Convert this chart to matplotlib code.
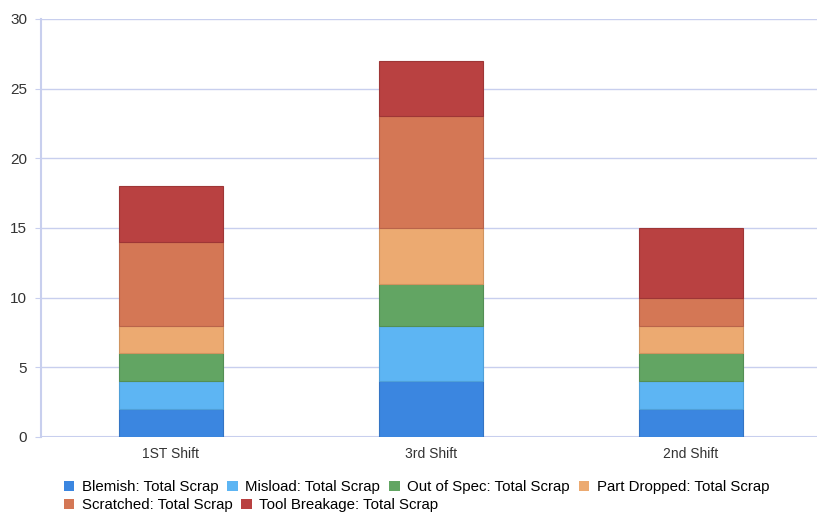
import numpy as np
import matplotlib.pyplot as plt
from matplotlib.patches import Patch

# --- DATA ---
shifts = ['1ST Shift', '3rd Shift', '2nd Shift']
series = ['Blemish: Total Scrap', 'Misload: Total Scrap', 'Out of Spec: Total Scrap',
          'Part Dropped: Total Scrap', 'Scratched: Total Scrap', 'Tool Breakage: Total Scrap']
blemish      = [2, 4, 2]
misload      = [2, 4, 2]
out_of_spec  = [2, 3, 2]
part_dropped = [2, 4, 2]
scratched    = [6, 8, 2]
tool_break   = [4, 4, 5]

colors = ['#3b86e0', '#5db5f3', '#62a563', '#ecaa71', '#d47755', '#b94141']
edges  = ['#3474c4', '#4fa0d8', '#538f54', '#d0945f', '#b9644a', '#9e3636']

plt.rcParams['font.family'] = ['Liberation Sans', 'DejaVu Sans']

fig = plt.figure(figsize=(8.17, 5.12), dpi=100)
ax = fig.add_axes([0.0502, 0.1465, 0.9498, 0.8165])

x = np.arange(len(shifts))
bottom = np.zeros(len(shifts))
values = [blemish, misload, out_of_spec, part_dropped, scratched, tool_break]
for vals, c, ec, name in zip(values, colors, edges, series):
    ax.bar(x, vals, width=0.4, bottom=bottom, color=c, edgecolor=ec,
           linewidth=0.8, label=name, zorder=3)
    bottom += np.array(vals)

ax.set_xlim(-0.5, 2.485)
ax.set_ylim(0, 30)
ax.set_yticks(range(0, 31, 5))
ax.set_xticks(x)
ax.set_xticklabels(shifts)
ax.grid(axis='y', color='#c8cfee', linewidth=1.0, zorder=0)
for s in ['top', 'right', 'bottom']:
    ax.spines[s].set_visible(False)
ax.spines['left'].set_color('#c8cfee')
ax.spines['left'].set_linewidth(1.5)
ax.axhline(0, color='#c8cfee', linewidth=1.5, zorder=2)
ax.tick_params(axis='y', length=4, color='#c8cfee', labelsize=11, labelcolor='#333333', pad=6)
ax.tick_params(axis='x', length=0, labelsize=10, labelcolor='#333333', pad=7)

handles = [Patch(facecolor=c, edgecolor='none') for c in colors]
leg_kw = dict(frameon=False, fontsize=10.8, handlelength=0.7, handleheight=0.7,
              handletextpad=0.5, columnspacing=0.6, borderpad=0, borderaxespad=0,
              loc='upper left')
fig.legend(handles[:4], series[:4], ncol=4, bbox_to_anchor=(0.078, 0.062), **leg_kw)
fig.legend(handles[4:], series[4:], ncol=2, bbox_to_anchor=(0.078, 0.027), **leg_kw)

plt.savefig('out.png', dpi=100)
